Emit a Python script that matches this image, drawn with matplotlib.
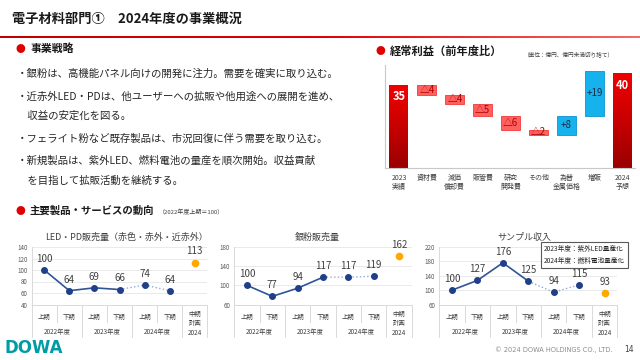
import numpy as np
import matplotlib.pyplot as plt
from matplotlib.patches import Rectangle
from matplotlib.colors import LinearSegmentedColormap
from matplotlib.transforms import blended_transform_factory

plt.rcParams['font.family'] = ['Noto Sans CJK JP', 'DejaVu Sans']

W, H = 640, 360

# ---- data ----
title = '電子材料部門①　2024年度の事業概況'
strategy = [
    ('・銀粉は、高機能パネル向けの開発に注力。需要を確実に取り込む。', 74),
    ('・近赤外LED・PDは、他ユーザーへの拡販や他用途への展開を進め、', 97),
    ('　収益の安定化を図る。', 116),
    ('・フェライト粉など既存製品は、市況回復に伴う需要を取り込む。', 139),
    ('・新規製品は、紫外LED、燃料電池の量産を順次開始。収益貢献', 161),
    ('　を目指して拡販活動を継続する。', 181),
]

wf_labels = ['2023\n実績', '資材費', '減価\n償却費', '販管費', '研究\n開発費',
             'その他', '為替\n金属価格', '増販', '2024\n予想']
wf_values = [35, -4, -4, -5, -6, -2, 8, 19, 40]

period_labels = ['上期', '下期', '上期', '下期', '上期', '下期']
year_labels = ['2022年度', '2023年度', '2024年度']
plan_label = '中期\n計画\n2024'

led_vals = [100, 64, 69, 66, 74, 64]
led_plan = 113
silver_vals = [100, 77, 94, 117, 117, 119]
silver_plan = 162
sample_vals = [100, 127, 176, 125, 94, 115]
sample_plan = 93


def fx(x):
    return x / W


def fy(y):
    return 1 - y / H


fig = plt.figure(figsize=(6.4, 3.6), dpi=100)
fig.patch.set_facecolor('white')

# ---- header ----
fig.text(fx(12), fy(19), title, fontsize=9.5, fontweight='bold', va='center', color='#1a1a1a')
line_ax = fig.add_axes([0, fy(38), 1, 2.5 / H])
line_cmap = LinearSegmentedColormap.from_list('hdr', ['#C00000', '#E00000', '#F46A6A'])
line_ax.imshow(np.linspace(0, 1, 256).reshape(1, -1), aspect='auto', cmap=line_cmap)
line_ax.axis('off')

# ---- strategy text ----
fig.text(fx(15), fy(49), '●', fontsize=7, color='#E00000', va='center')
fig.text(fx(31), fy(49), '事業戦略', fontsize=7.8, fontweight='bold', va='center', color='#1a1a1a')
for txt, y in strategy:
    fig.text(fx(17), fy(y), txt, fontsize=7.5, va='center', color='#262626')

# ---- waterfall ----
fig.text(fx(376), fy(51), '●', fontsize=7, color='#E00000', va='center')
fig.text(fx(390), fy(51), '経常利益（前年度比）', fontsize=8.1, fontweight='bold', va='center', color='#1a1a1a')
fig.text(fx(523), fy(54), '（単位：億円、億円未満切り捨て）', fontsize=4.1, va='center', color='#404040')

ax = fig.add_axes([fx(385), fy(168), 250 / W, 103 / H])
ax.set_xlim(-0.5, 8.45)
ax.set_ylim(0, 43.5)
bw = 0.68
red_cmap = LinearSegmentedColormap.from_list('bar', ['#9A0000', '#C80000', '#F00000'])
grad = np.linspace(0, 1, 100).reshape(-1, 1)
cum = 0
for i, v in enumerate(wf_values):
    if i == 0 or i == len(wf_values) - 1:
        ax.imshow(grad, extent=(i - bw / 2, i + bw / 2, 0, v), origin='lower',
                  aspect='auto', cmap=red_cmap, zorder=2)
        ax.text(i, v - 5, str(v), ha='center', va='center', fontsize=8,
                fontweight='bold', color='white', zorder=3)
        cum = v
    else:
        lo = cum + v if v < 0 else cum
        if v < 0:
            fc, ec, tc, lab = '#FF6161', '#F03A3A', '#B00000', '△' + str(-v)
        else:
            fc, ec, tc, lab = '#16B2EE', '#0B95D0', '#1F2A44', '+' + str(v)
        ax.add_patch(Rectangle((i - bw / 2, lo), bw, abs(v), facecolor=fc,
                               edgecolor=ec, lw=0.6, zorder=2))
        ax.text(i, lo + abs(v) / 2, lab, ha='center', va='center', fontsize=7,
                color=tc, zorder=3)
        cum += v
tr = blended_transform_factory(ax.transData, ax.transAxes)
for i, lab in enumerate(wf_labels):
    ax.text(i, -0.055, lab, transform=tr, ha='center', va='top', fontsize=5,
            color='#404040', linespacing=1.3)
for s in ['top', 'right']:
    ax.spines[s].set_visible(False)
for s in ['left', 'bottom']:
    ax.spines[s].set_color('#C8C8C8')
    ax.spines[s].set_linewidth(0.8)
ax.set_xticks([])
ax.set_yticks([])
ax.set_facecolor('none')

# ---- trend charts ----
fig.text(fx(15), fy(211), '●', fontsize=7, color='#E00000', va='center')
fig.text(fx(30), fy(211), '主要製品・サービスの動向', fontsize=7.5, fontweight='bold',
         va='center', color='#1a1a1a')
fig.text(fx(159), fy(212), '（2022年度上期＝100）', fontsize=4.3, va='center', color='#404040')


def trend(x0, x1, vals, plan, ymin, ymax, step, name, tx):
    a = fig.add_axes([fx(x0), fy(304.5), (x1 - x0) / W, 57.5 / H])
    a.set_xlim(-0.5, 6.5)
    a.set_ylim(ymin, ymax)
    a.set_yticks(np.arange(ymin, ymax + 1, step))
    a.set_xticks([])
    a.tick_params(axis='y', length=0, labelsize=4.5, labelcolor='#595959', pad=3)
    a.grid(axis='y', color='#E6E6E6', lw=0.6)
    a.set_axisbelow(True)
    for s in ['top', 'right']:
        a.spines[s].set_visible(False)
    for s in ['left', 'bottom']:
        a.spines[s].set_color('#D9D9D9')
        a.spines[s].set_linewidth(0.7)
    xs = np.arange(len(vals))
    a.plot(xs[:4], vals[:4], color='#2F5597', lw=1.2, zorder=3)
    a.plot(xs[3:], vals[3:], color='#8FAADC', lw=1.0, ls=':', zorder=3)
    a.plot(xs, vals, 'o', color='#203F8A', ms=4, zorder=4)
    a.plot([6], [plan], 'o', color='#FFA800', ms=4.5, zorder=4)
    for x, v in zip(list(xs) + [6], list(vals) + [plan]):
        a.annotate(str(v), (x, v), xytext=(0, 8), textcoords='offset points',
                   ha='center', va='center', fontsize=7, color='#404040')
    t = blended_transform_factory(a.transData, a.transAxes)
    for xb in [-0.5, 1.5, 3.5, 5.5, 6.5]:
        a.plot([xb, xb], [0, -0.565], transform=t, clip_on=False, color='#D9D9D9', lw=0.7)
    for xb in [0.5, 2.5, 4.5]:
        a.plot([xb, xb], [0, -0.30], transform=t, clip_on=False, color='#D9D9D9', lw=0.7)
    for i, lab in enumerate(period_labels):
        a.text(i, -0.212, lab, transform=t, ha='center', va='center', fontsize=4.6, color='#404040')
    for k, lab in enumerate(year_labels):
        a.text(2 * k + 0.5, -0.473, lab, transform=t, ha='center', va='center',
               fontsize=4.6, color='#404040')
    a.text(6, -0.33, plan_label, transform=t, ha='center', va='center', fontsize=4.6,
           color='#404040', linespacing=1.3)
    fig.text(fx(tx), fy(237.5), name, ha='center', va='center', fontsize=6.5, color='#404040')
    return a


trend(31.7, 207.3, led_vals, led_plan, 40, 140, 20, 'LED・PD販売量（赤色・赤外・近赤外）', 127)
trend(234.3, 411.7, silver_vals, silver_plan, 60, 180, 40, '銀粉販売量', 317)
trend(439.3, 617.3, sample_vals, sample_plan, 60, 220, 40, 'サンプル収入', 524)

fig.text(fx(544), fy(255), '2023年度：紫外LED量産化\n2024年度：燃料電池量産化', ha='left',
         va='center', fontsize=4.8, color='#262626', linespacing=1.6,
         bbox=dict(boxstyle='square,pad=0.5', fc='white', ec='#595959', lw=0.8))

# ---- footer ----
fig.text(fx(5), fy(348), 'DOWA', fontsize=12, fontweight='bold', color='#009CA6',
         va='center', family='DejaVu Sans')
fig.text(fx(613), fy(350), '© 2024 DOWA HOLDINGS CO., LTD.', fontsize=4.8, ha='right',
         va='center', color='#8C8C8C', family='DejaVu Sans')
fig.text(fx(624), fy(350), '14', fontsize=5.5, va='center', color='#404040', family='DejaVu Sans')

fig.savefig('out.png', dpi=100)
